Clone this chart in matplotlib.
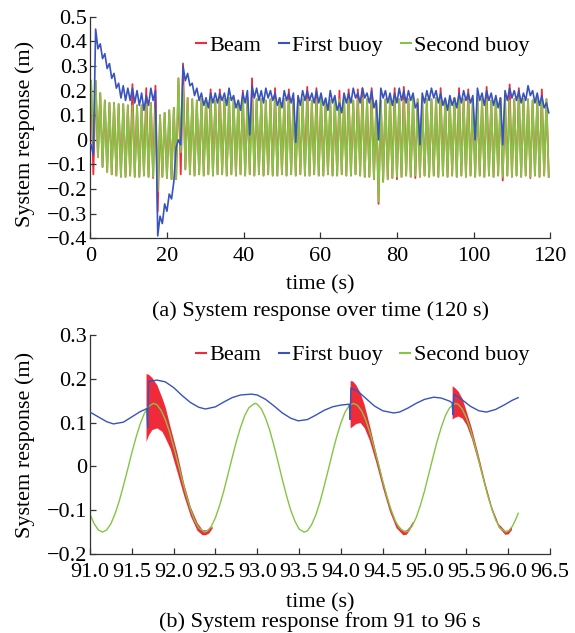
import numpy as np
import matplotlib
matplotlib.use("Agg")
import matplotlib.pyplot as plt
from matplotlib.lines import Line2D
from matplotlib.ticker import FuncFormatter, MultipleLocator

plt.rcParams['font.family'] = ['Liberation Serif', 'DejaVu Serif']
plt.rcParams['font.size'] = 16

RED = '#ef2b3a'
BLUE = '#3853bd'
GREEN = '#86c443'

# ---------------- (a) 0-120 s, one value per wave crest / trough ----------------
T_FIRST_CREST = 0.2   # s
PERIOD = 1.2          # s, wave period

second_crest = [0.24, 0.24, 0.19, 0.16, 0.15, 0.15, 0.145, 0.145, 0.14, 0.14,
                0.14, 0.14, 0.145, 0.15, 0.13, 0.10, 0.11, 0.12, 0.13, 0.25,
                0.22, 0.17, 0.165, 0.16, 0.165, 0.17, 0.165, 0.16, 0.165, 0.165,
                0.17, 0.165, 0.16, 0.165, 0.17, 0.17, 0.165, 0.165, 0.16, 0.165,
                0.165, 0.17, 0.165, 0.16, 0.165, 0.17, 0.165, 0.165, 0.16, 0.165,
                0.17, 0.165, 0.16, 0.165, 0.165, 0.17, 0.165, 0.16, 0.165, 0.17,
                0.165, 0.16, 0.15, 0.16, 0.165, 0.17, 0.165, 0.165, 0.16, 0.165,
                0.17, 0.165, 0.16, 0.165, 0.165, 0.17, 0.165, 0.16, 0.165, 0.17,
                0.165, 0.165, 0.16, 0.165, 0.17, 0.165, 0.165, 0.16, 0.165, 0.17,
                0.165, 0.16, 0.165, 0.17, 0.165, 0.165, 0.16, 0.165, 0.17, 0.165]
second_trough = [-0.03, -0.07, -0.11, -0.13, -0.14, -0.145, -0.15, -0.15, -0.145, -0.15,
                 -0.15, -0.145, -0.15, -0.15, -0.21, -0.15, -0.155, -0.16, -0.16, -0.05,
                 -0.12, -0.14, -0.145, -0.14, -0.145, -0.14, -0.145, -0.14, -0.14, -0.145,
                 -0.14, -0.145, -0.14, -0.145, -0.14, -0.145, -0.14, -0.145, -0.14, -0.145,
                 -0.145, -0.14, -0.145, -0.14, -0.145, -0.14, -0.145, -0.145, -0.14, -0.145,
                 -0.145, -0.14, -0.145, -0.145, -0.14, -0.145, -0.145, -0.14, -0.145, -0.15,
                 -0.15, -0.16, -0.25, -0.17, -0.16, -0.155, -0.15, -0.15, -0.145, -0.15,
                 -0.145, -0.15, -0.145, -0.15, -0.145, -0.15, -0.145, -0.15, -0.145, -0.15,
                 -0.145, -0.15, -0.145, -0.15, -0.145, -0.15, -0.145, -0.15, -0.145, -0.15,
                 -0.145, -0.15, -0.145, -0.15, -0.145, -0.15, -0.145, -0.15, -0.145, -0.15]

first_crest = [-0.02, 0.45, 0.39, 0.35, 0.31, 0.27, 0.23, 0.22, 0.21, 0.21,
               0.20, 0.19, 0.18, 0.21, 0.20, -0.31, -0.26, -0.22, -0.17, 0.00,
               0.30, 0.27, 0.23, 0.21, 0.19, 0.17, 0.19, 0.19, 0.19, 0.19,
               0.21, 0.18, 0.16, 0.19, 0.20, 0.22, 0.21, 0.20, 0.21, 0.20,
               0.19, 0.17, 0.20, 0.19, 0.19, 0.18, 0.20, 0.20, 0.19, 0.20,
               0.19, 0.17, 0.20, 0.18, 0.15, 0.19, 0.19, 0.21, 0.19, 0.21,
               0.19, 0.20, 0.16, 0.21, 0.20, 0.19, 0.19, 0.21, 0.20, 0.20,
               0.19, 0.15, 0.19, 0.20, 0.21, 0.20, 0.19, 0.17, 0.18, 0.17,
               0.19, 0.20, 0.19, 0.18, 0.21, 0.19, 0.20, 0.19, 0.18, 0.17,
               0.20, 0.21, 0.20, 0.20, 0.19, 0.22, 0.20, 0.19, 0.18, 0.15]
first_trough = [-0.06, 0.37, 0.33, 0.29, 0.25, 0.21, 0.17, 0.16, 0.16, 0.15,
                0.14, 0.12, 0.14, 0.16, -0.39, -0.34, -0.29, -0.24, -0.03, -0.02,
                0.24, 0.22, 0.18, 0.16, 0.14, 0.13, 0.15, 0.15, 0.16, 0.14,
                0.16, 0.13, 0.12, 0.15, 0.02, 0.17, 0.16, 0.15, 0.17, 0.16,
                0.14, 0.13, 0.16, 0.15, -0.01, 0.14, 0.16, 0.16, 0.15, 0.15,
                0.14, 0.12, 0.15, 0.12, 0.11, 0.15, 0.15, 0.17, 0.15, 0.17,
                0.15, 0.13, 0.00, 0.17, 0.15, 0.14, 0.15, 0.16, 0.15, 0.16,
                0.13, -0.02, 0.15, 0.16, 0.17, 0.15, 0.14, 0.12, 0.14, 0.13,
                0.15, 0.16, 0.15, 0.00, 0.16, 0.14, 0.16, 0.14, 0.13, -0.02,
                0.16, 0.17, 0.16, 0.15, 0.16, 0.18, 0.15, 0.14, 0.13, 0.11]

# beam follows the second buoy except at impacts
beam_up_t = [11.2, 14.6, 17.0, 24.2, 31.6, 34.2, 39.8, 42.0, 48.1, 52.0, 56.8, 59.0, 65.5,
             67.7, 69.8, 71.6, 73.3, 79.4, 82.0, 91.5, 96.3, 98.0, 103.7, 109.4, 112.0, 117.6]
beam_up_v = [0.226, 0.21, 0.22, 0.31, 0.205, 0.205, 0.2, 0.25, 0.21, 0.205, 0.215, 0.21, 0.2,
             0.205, 0.205, 0.21, 0.21, 0.21, 0.215, 0.21, 0.21, 0.205, 0.215, 0.225, 0.21, 0.205]
beam_dn_t = [0.8, 16.4, 17.6, 23.6, 73.4, 75.2, 80.2, 85.0, 107.6, 114.6]
beam_dn_v = [-0.14, -0.155, -0.29, -0.14, -0.16, -0.26, -0.16, -0.155, -0.165, -0.155]

# ---------------- (b) 91-96 s ----------------
second_b_t = [91.00, 91.05, 91.10, 91.15, 91.20, 91.25, 91.30, 91.35, 91.40, 91.45, 91.50, 91.55,
              91.60, 91.65, 91.70, 91.76, 91.80, 91.85, 91.90, 91.95, 92.00, 92.05, 92.10, 92.15,
              92.20, 92.25, 92.30, 92.37, 92.40, 92.45, 92.50, 92.55, 92.60, 92.65, 92.70, 92.75,
              92.80, 92.85, 92.90, 92.97, 93.00, 93.05, 93.10, 93.15, 93.20, 93.25, 93.30, 93.35,
              93.40, 93.45, 93.50, 93.56, 93.60, 93.65, 93.70, 93.75, 93.80, 93.85, 93.90, 93.95,
              94.00, 94.05, 94.10, 94.15, 94.20, 94.25, 94.30, 94.35, 94.40, 94.45, 94.50, 94.55,
              94.60, 94.65, 94.70, 94.77, 94.80, 94.85, 94.90, 94.95, 95.00, 95.05, 95.10, 95.15,
              95.20, 95.25, 95.30, 95.37, 95.40, 95.45, 95.50, 95.55, 95.60, 95.65, 95.70, 95.75,
              95.80, 95.85, 95.90, 95.97, 96.00, 96.05, 96.10, 96.12]
second_b_v = [-0.109, -0.131, -0.145, -0.150, -0.145, -0.131, -0.108, -0.079, -0.044, -0.007, 0.031, 0.066,
              0.097, 0.121, 0.137, 0.144, 0.141, 0.128, 0.107, 0.079, 0.045, 0.008, -0.029, -0.065,
              -0.097, -0.123, -0.140, -0.150, -0.148, -0.137, -0.117, -0.089, -0.056, -0.018, 0.020, 0.057,
              0.089, 0.116, 0.134, 0.144, 0.142, 0.131, 0.110, 0.082, 0.047, 0.009, -0.030, -0.067,
              -0.100, -0.125, -0.143, -0.150, -0.147, -0.133, -0.111, -0.081, -0.045, -0.007, 0.032, 0.068,
              0.099, 0.124, 0.139, 0.144, 0.139, 0.126, 0.104, 0.075, 0.041, 0.005, -0.033, -0.068,
              -0.099, -0.124, -0.141, -0.150, -0.148, -0.137, -0.117, -0.089, -0.056, -0.018, 0.020, 0.057,
              0.089, 0.116, 0.134, 0.144, 0.142, 0.131, 0.111, 0.083, 0.050, 0.012, -0.026, -0.063,
              -0.095, -0.122, -0.140, -0.150, -0.148, -0.137, -0.117, -0.107]

first_b_t = [91.0, 91.1, 91.2, 91.28, 91.4, 91.5, 91.6, 91.68, 91.69, 91.70, 91.8, 91.9,
             92.0, 92.1, 92.2, 92.3, 92.38, 92.5, 92.6, 92.7, 92.8, 92.93, 93.0, 93.1,
             93.2, 93.3, 93.4, 93.49, 93.6, 93.7, 93.8, 93.9, 94.0, 94.1, 94.11, 94.12,
             94.2, 94.3, 94.4, 94.5, 94.63, 94.7, 94.8, 94.9, 95.0, 95.11, 95.2, 95.3,
             95.33, 95.34, 95.35, 95.45, 95.55, 95.65, 95.74, 95.85, 95.95, 96.05, 96.12]
first_b_v = [0.124, 0.113, 0.102, 0.097, 0.101, 0.113, 0.125, 0.132, 0.089, 0.194, 0.197, 0.193,
             0.180, 0.162, 0.146, 0.135, 0.131, 0.136, 0.147, 0.157, 0.163, 0.165, 0.163, 0.153,
             0.138, 0.122, 0.110, 0.104, 0.107, 0.117, 0.128, 0.136, 0.140, 0.142, 0.107, 0.179,
             0.172, 0.155, 0.138, 0.127, 0.122, 0.124, 0.133, 0.144, 0.153, 0.158, 0.156, 0.149,
             0.145, 0.118, 0.165, 0.152, 0.137, 0.127, 0.124, 0.130, 0.140, 0.151, 0.157]

# beam vibration band after each impact
beam1_t = [91.67, 91.70, 91.74, 91.80, 91.86, 91.90, 91.96, 92.04, 92.12, 92.20, 92.28, 92.34, 92.38, 92.42, 92.46]
beam1_hi = [0.212, 0.210, 0.203, 0.186, 0.157, 0.135, 0.089, 0.031, -0.038, -0.092, -0.128, -0.144, -0.145, -0.142, -0.136]
beam1_lo = [0.057, 0.072, 0.084, 0.088, 0.080, 0.065, 0.040, -0.012, -0.066, -0.113, -0.146, -0.156, -0.156, -0.152, -0.141]
beam2_t = [94.11, 94.14, 94.18, 94.23, 94.28, 94.34, 94.42, 94.50, 94.58, 94.66, 94.74, 94.78, 94.82, 94.86]
beam2_hi = [0.196, 0.195, 0.186, 0.168, 0.140, 0.095, 0.030, -0.033, -0.089, -0.129, -0.146, -0.145, -0.137, -0.124]
beam2_lo = [0.088, 0.092, 0.098, 0.100, 0.088, 0.060, 0.008, -0.050, -0.102, -0.140, -0.156, -0.155, -0.145, -0.129]
beam3_t = [95.33, 95.36, 95.40, 95.45, 95.50, 95.56, 95.64, 95.72, 95.80, 95.88, 95.96, 96.00, 96.04]
beam3_hi = [0.184, 0.180, 0.172, 0.155, 0.125, 0.088, 0.028, -0.035, -0.091, -0.130, -0.146, -0.145, -0.136]
beam3_lo = [0.108, 0.112, 0.115, 0.110, 0.095, 0.064, 0.010, -0.048, -0.100, -0.138, -0.155, -0.154, -0.144]

labels = ['Beam', 'First buoy', 'Second buoy']


def zigzag(hi, lo):
    return np.column_stack([hi, lo]).ravel()


k = np.arange(len(second_crest))
t_crest = T_FIRST_CREST + PERIOD * k
t_a = zigzag(t_crest, t_crest + PERIOD / 2)

beam_hi = np.array(second_crest, dtype=float)
beam_lo = np.array(second_trough, dtype=float)
beam_hi[np.rint((np.array(beam_up_t) - T_FIRST_CREST) / PERIOD).astype(int)] = beam_up_v
beam_lo[np.rint((np.array(beam_dn_t) - T_FIRST_CREST - PERIOD / 2) / PERIOD).astype(int)] = beam_dn_v


def num_fmt(v, pos):
    if abs(v) < 1e-9:
        return '0'
    return ('%.1f' % v).replace('-', '\u2212')


def style(ax):
    for s in ['top', 'right']:
        ax.spines[s].set_visible(False)
    for s in ['left', 'bottom']:
        ax.spines[s].set_color('#333333')
        ax.spines[s].set_linewidth(0.9)
    ax.tick_params(direction='in', length=4, width=0.9, color='#333333', labelsize=16)
    ax.tick_params(axis='x', pad=6.5)
    ax.tick_params(axis='y', pad=2)


handles = [Line2D([], [], color=c, lw=1.5) for c in (RED, BLUE, GREEN)]

fig = plt.figure(figsize=(5.75, 6.33), dpi=100)

# (a)
ax1 = fig.add_axes([0.157, 0.6235, 0.800, 0.350])
ax1.plot(t_a, zigzag(beam_hi, beam_lo), color=RED, lw=1.3, zorder=1)
ax1.plot(t_a, zigzag(second_crest, second_trough), color=GREEN, lw=1.3, zorder=2)
ax1.plot(t_a, zigzag(first_crest, first_trough), color=BLUE, lw=1.2, zorder=3)
ax1.set_xlim(0, 120)
ax1.set_ylim(-0.4, 0.5)
ax1.xaxis.set_major_locator(MultipleLocator(20))
ax1.yaxis.set_major_locator(MultipleLocator(0.1))
ax1.yaxis.set_major_formatter(FuncFormatter(num_fmt))
style(ax1)
ax1.set_xlabel('time (s)', fontsize=16, va='center')
ax1.xaxis.set_label_coords(0.5, -0.21)
ax1.set_ylabel('System response (m)', fontsize=16, va='center')
ax1.yaxis.set_label_coords(-0.142, 0.47)
ax1.legend(handles, labels, loc='upper right', bbox_to_anchor=(0.955, 0.915), ncol=3,
           frameon=False, fontsize=16, handlelength=0.45, handletextpad=0.15,
           columnspacing=0.8, borderpad=0, borderaxespad=0)

# (b)
ax2 = fig.add_axes([0.1565, 0.1248, 0.800, 0.346])
for bt, bh, bl in [(beam1_t, beam1_hi, beam1_lo), (beam2_t, beam2_hi, beam2_lo), (beam3_t, beam3_hi, beam3_lo)]:
    ax2.fill_between(bt, bl, bh, color=RED, lw=0, zorder=1)
ax2.plot(second_b_t, second_b_v, color=GREEN, lw=1.0, zorder=2)
ax2.plot(first_b_t, first_b_v, color=BLUE, lw=1.0, zorder=3)
ax2.set_xlim(91.0, 96.5)
ax2.set_ylim(-0.2, 0.3)
ax2.xaxis.set_major_locator(MultipleLocator(0.5))
ax2.xaxis.set_major_formatter(FuncFormatter(lambda v, p: '%.1f' % v))
ax2.yaxis.set_major_locator(MultipleLocator(0.1))
ax2.yaxis.set_major_formatter(FuncFormatter(num_fmt))
style(ax2)
ax2.set_xlabel('time (s)', fontsize=16, va='center')
ax2.xaxis.set_label_coords(0.5, -0.222)
ax2.set_ylabel('System response (m)', fontsize=16, va='center')
ax2.yaxis.set_label_coords(-0.141, 0.498)
ax2.legend(handles, labels, loc='upper right', bbox_to_anchor=(0.955, 0.955), ncol=3,
           frameon=False, fontsize=16, handlelength=0.45, handletextpad=0.15,
           columnspacing=0.8, borderpad=0, borderaxespad=0)

fig.text(0.557, 0.508, '(a) System response over time (120 s)', ha='center', va='center', fontsize=16)
fig.text(0.557, 0.017, '(b) System response from 91 to 96 s', ha='center', va='center', fontsize=16)

fig.savefig('out.png', dpi=100)
